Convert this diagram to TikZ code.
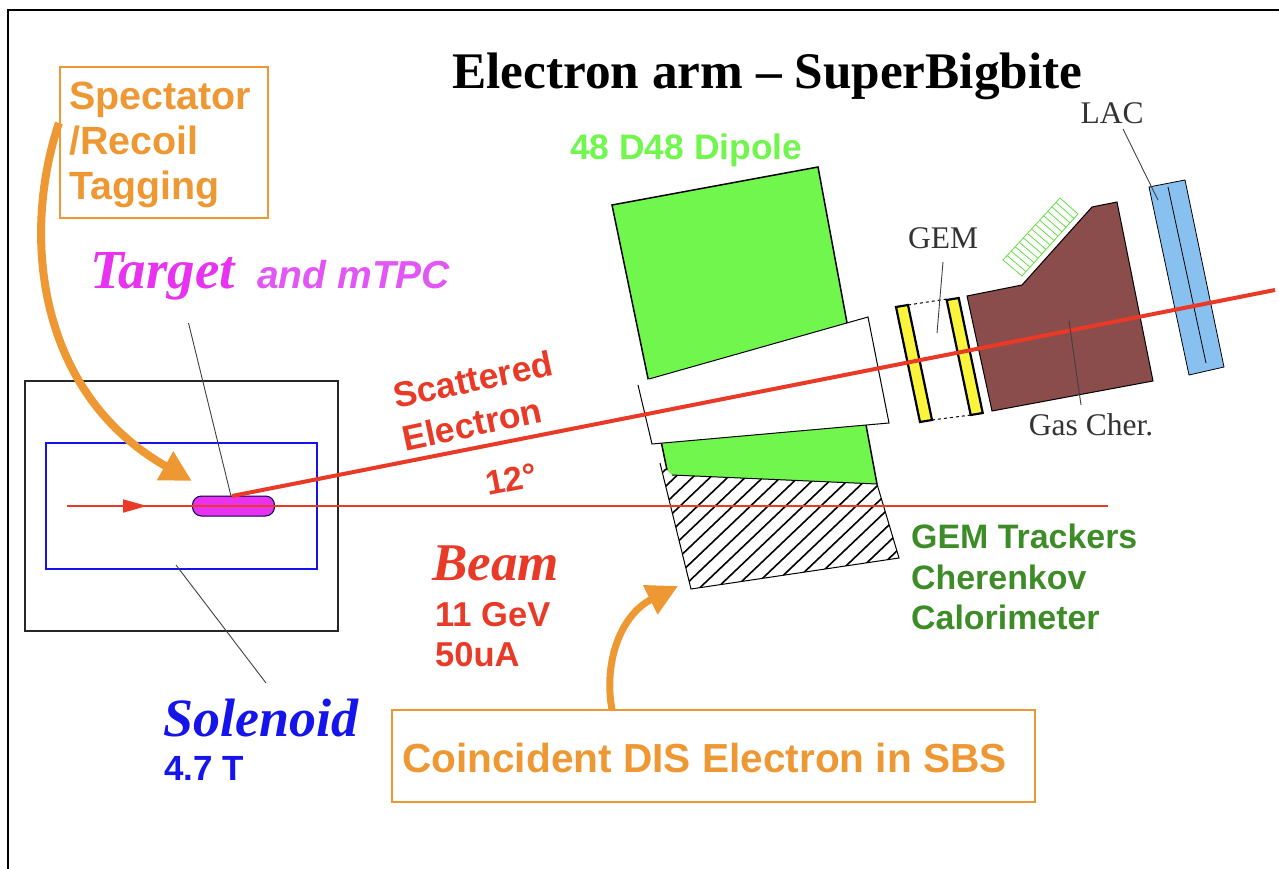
\documentclass[tikz,border=0pt]{standalone}
\usepackage{fontspec}
\usepackage{tikz}
\usetikzlibrary{arrows.meta,calc}
\setmainfont{Liberation Serif}
\setsansfont{Liberation Sans}
\definecolor{tagorange}{RGB}{238,152,52}
\definecolor{beamred}{RGB}{232,58,38}
\definecolor{dipolegreen}{RGB}{112,246,76}
\definecolor{trackgreen}{RGB}{62,140,40}
\definecolor{targetpink}{RGB}{232,50,240}
\definecolor{mtpcpink}{RGB}{226,86,246}
\definecolor{chergas}{RGB}{139,76,76}
\definecolor{lacblue}{RGB}{136,192,240}
\definecolor{gemyellow}{RGB}{250,245,60}
\definecolor{solblue}{RGB}{20,20,235}
\tikzset{
  sanslabel/.style={anchor=base west,inner sep=0,font=\sffamily\bfseries\fontsize{#1}{#1}\selectfont},
  seriflabel/.style={inner sep=0,text=black!80,font=\fontsize{31.5}{31.5}\selectfont},
  scriptlabel/.style={anchor=base west,inner sep=0,font=\bfseries\itshape\fontsize{#1}{#1}\selectfont},
  leader/.style={draw,black!75,line width=0.9},
  tagbox/.style={draw=tagorange,line width=2.2},
  tagarrow/.style={draw=tagorange,line width=#1,-{Triangle[length=31,width=31]}}
}
\begin{document}
\begin{tikzpicture}[x=1pt,y=-1pt]
  \useasboundingbox (0,0) rectangle (1279,869);
  \path[draw,line width=2.5] (8,869) -- (8,10) -- (1279,10);
  \node (title) [anchor=base west,inner sep=0,font=\bfseries\fontsize{51.3}{51.3}\selectfont] at (452,89) {Electron arm – SuperBigbite};

  \path[draw,line width=2,black!85] (25,381) rectangle (338,631);
  \path[draw=solblue,line width=2] (46,443) rectangle (317,569);
  \node (target) [draw=black!70!blue,line width=1,fill=targetpink,rounded corners=9,minimum width=82,minimum height=20,inner sep=0] at (233.5,506) {};

  \path[fill=dipolegreen] (612,205) -- (818,167) -- (877,484) -- (672,475) -- (667,470) -- cycle;
  \path[draw,line width=1.5] (667,470) -- (612,205) -- (818,167) -- (877,484);
  \path[draw,line width=1,fill=white] (638,385) -- (652,444) -- (889,423) -- (868,317) -- (649,379);
  \begin{scope}
    \clip (660,463) -- (691,589) -- (899,558) -- (877,484) -- (672,475) -- cycle;
    \foreach \xhatch in {0,...,20} {
      \path[draw,line width=1.6] (511+\xhatch*17.6,600) -- (511+\xhatch*17.6+147,460);
    }
  \end{scope}
  \path[draw,line width=1] (660,463) -- (691,589) -- (899,558) -- (877,484) -- (672,475);

  \foreach \xgem/\ygem in {0/0,50.7/-7} {
    \path[draw,fill=gemyellow,line width=2.2] (896+\xgem,307+\ygem) -- (908+\xgem,305+\ygem) -- (932+\xgem,420+\ygem) -- (920+\xgem,422+\ygem) -- cycle;
  }
  \path[draw,dashed,line width=1] (908,305) -- (947,299) (932,420) -- (971,415);

  \path[draw,fill=chergas,line width=1] (967,296) -- (1022,285) -- (1092,207) -- (1117,202) -- (1153,381) -- (992,411) -- cycle;
  \coordinate (hatcha) at (1003,260);
  \coordinate (hatchb) at (1060,198);
  \coordinate (hatchc) at (1078,214);
  \coordinate (hatchd) at (1022,276);
  \path[draw=dipolegreen!90!black,line width=0.8] (hatcha) -- (hatchb) -- (hatchc) -- (hatchd) -- cycle;
  \foreach \ihatch in {1,...,13} {
    \path[draw=dipolegreen!90!black,line width=0.8] ($(hatcha)!\ihatch/14!(hatchb)$) -- ($(hatchd)!\ihatch/14!(hatchc)$);
  }
  \path[draw,fill=lacblue,line width=0.8] (1149,187) -- (1185,180) -- (1224,367) -- (1189,375) -- cycle;
  \path[draw,line width=0.8] (1168,187) -- (1206,363);

  \coordinate (beamstart) at (67,506);
  \coordinate (beamtip) at (147,506);
  \coordinate (beamend) at (1108,506);
  \path[draw=beamred,line width=1.8] (beamstart) -- (beamend);
  \path[draw=beamred,line width=1.8,-{Triangle[length=24,width=13]}] (beamstart) -- (beamtip);
  \coordinate (scatstart) at (232,496);
  \coordinate (scatend) at (1275,290);
  \path[draw=beamred,line width=4] (scatstart) -- (scatend);

  \node (targetlabel) [scriptlabel=55,text=targetpink] at (90,288) {Target};
  \node (mtpclabel) [sanslabel=39,text=mtpcpink,font=\sffamily\bfseries\itshape\fontsize{39}{39}\selectfont] at (257,288) {and mTPC};
  \coordinate (targettop) at (188.5,323);
  \path[leader] (targettop) -- (231,496);
  \node (beamlabel) [scriptlabel=53,text=beamred] at (432,580) {Beam};
  \node (gevlabel) [sanslabel=34.5,text=beamred] at (435,626) {11 GeV};
  \node (ualabel) [sanslabel=34.5,text=beamred] at (435,666) {50uA};
  \node (anglelabel) [sanslabel=34,text=beamred,rotate=11] at (488,496) {12°};
  \node (scatlabel) [sanslabel=35.5,text=beamred,anchor=center,rotate=12] at (473,379) {Scattered};
  \node (eleclabel) [sanslabel=35.5,text=beamred,anchor=center,rotate=12] at (472,424) {Electron};
  \node (sollabel) [scriptlabel=54,text=solblue] at (163,736) {Solenoid};
  \node (fieldlabel) [sanslabel=35,text=solblue] at (164,780) {4.7 T};
  \coordinate (solinner) at (176,565);
  \coordinate (solouter) at (266,683);
  \path[leader] (solinner) -- (solouter);

  \node (dipolelabel) [sanslabel=35.4,text=dipolegreen] at (570,160) {48 D48 Dipole};
  \node (trackerlabel) [sanslabel=33.9,text=trackgreen] at (911,548) {GEM Trackers};
  \node (cherenkovlabel) [sanslabel=33.9,text=trackgreen] at (911,589) {Cherenkov};
  \node (calolabel) [sanslabel=33.9,text=trackgreen] at (911,629) {Calorimeter};

  \node (laclabel) [seriflabel] at (1112,113) {LAC};
  \coordinate (laca) at (1123,129);
  \coordinate (lacb) at (1158,200);
  \path[leader] (laca) -- (lacb);
  \node (gemlabel) [seriflabel] at (943,238) {GEM};
  \coordinate (gema) at (943,262);
  \coordinate (gemb) at (937,333);
  \path[leader] (gema) -- (gemb);
  \node (gaslabel) [seriflabel] at (1091,425) {Gas Cher.};
  \coordinate (gasa) at (1069,321);
  \coordinate (gasb) at (1081,405);
  \path[leader] (gasa) -- (gasb);

  \node (specbox) [tagbox,minimum width=208,minimum height=151,inner sep=0] at (164,142.5) {};
  \node (speclabel) [sanslabel=39.4,text=tagorange] at (69,110) {Spectator};
  \node (recoillabel) [sanslabel=39.4,text=tagorange] at (69,155) {/Recoil};
  \node (taglabel) [sanslabel=39.4,text=tagorange] at (69,200) {Tagging};
  \coordinate (specend) at (192,481);
  \path[tagarrow=8] (specbox.west |- 0,123) .. controls (20,240) and (40,395) .. (specend);

  \node (coinbox) [tagbox,minimum width=643,minimum height=92,inner sep=0] at (713.5,756) {};
  \node (coinlabel) [sanslabel=40.6,text=tagorange] at (402,772) {Coincident DIS Electron in SBS};
  \coordinate (coinend) at (678,586);
  \path[tagarrow=7] (612,710) .. controls (603,660) and (622,614) .. (coinend);
\end{tikzpicture}
\end{document}
